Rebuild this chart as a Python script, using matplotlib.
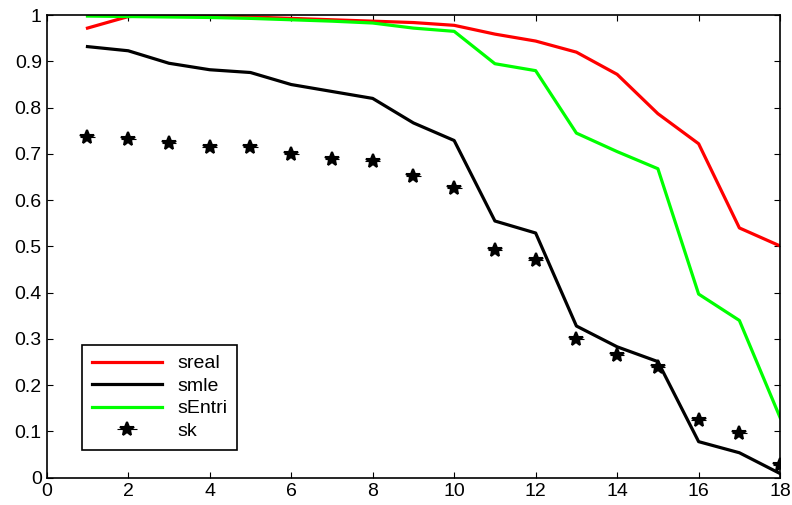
import numpy as np
import matplotlib
matplotlib.use("Agg")
import matplotlib.pyplot as plt

plt.rcParams['font.family'] = ['Liberation Sans', 'DejaVu Sans']

x = np.arange(1, 19)
sreal = [0.972, 0.997, 1.0, 1.0, 0.996, 0.993, 0.990, 0.987, 0.984, 0.978,
         0.959, 0.944, 0.920, 0.872, 0.787, 0.722, 0.540, 0.501]
smle = [0.932, 0.923, 0.896, 0.882, 0.876, 0.850, 0.835, 0.820, 0.767, 0.729,
        0.555, 0.529, 0.328, 0.283, 0.251, 0.078, 0.054, 0.009]
sentri = [0.998, 0.997, 0.996, 0.995, 0.993, 0.990, 0.987, 0.983, 0.972, 0.965,
          0.895, 0.880, 0.745, 0.705, 0.668, 0.397, 0.340, 0.130]
sk = [0.737, 0.733, 0.723, 0.715, 0.714, 0.700, 0.690, 0.685, 0.653, 0.627,
      0.493, 0.470, 0.300, 0.265, 0.240, 0.125, 0.097, 0.027]

fig = plt.figure(figsize=(7.92, 5.05), dpi=100)
ax = fig.add_axes([0.059, 0.054, 0.926, 0.916])

ax.plot(x, sreal, color='#ff0000', lw=2.3, label='sreal')
ax.plot(x, smle, color='black', lw=2.3, label='smle')
ax.plot(x, sentri, color='#00ff00', lw=2.3, label='sEntri')
ax.errorbar(x, sk, xerr=0.18, fmt='*', color='black', ms=10, mew=1.5,
            elinewidth=0.8, capsize=0, label='sk')

ax.set_xlim(0, 18)
ax.set_ylim(0, 1)
ax.set_xticks(np.arange(0, 19, 2))
ax.set_yticks(np.arange(0, 1.01, 0.1))
ax.set_yticklabels(['0', '0.1', '0.2', '0.3', '0.4', '0.5', '0.6', '0.7', '0.8', '0.9', '1'])
ax.tick_params(direction='in', top=True, right=True, labelsize=14, length=4)
for s in ax.spines.values():
    s.set_linewidth(1.2)

leg = ax.legend(loc='lower left', bbox_to_anchor=(0.035, 0.04), fontsize=14,
                fancybox=False, edgecolor='black', framealpha=1,
                handlelength=3.6, borderpad=0.5, labelspacing=0.25)
leg.get_frame().set_linewidth(1.2)

fig.savefig('out.png', dpi=100)
